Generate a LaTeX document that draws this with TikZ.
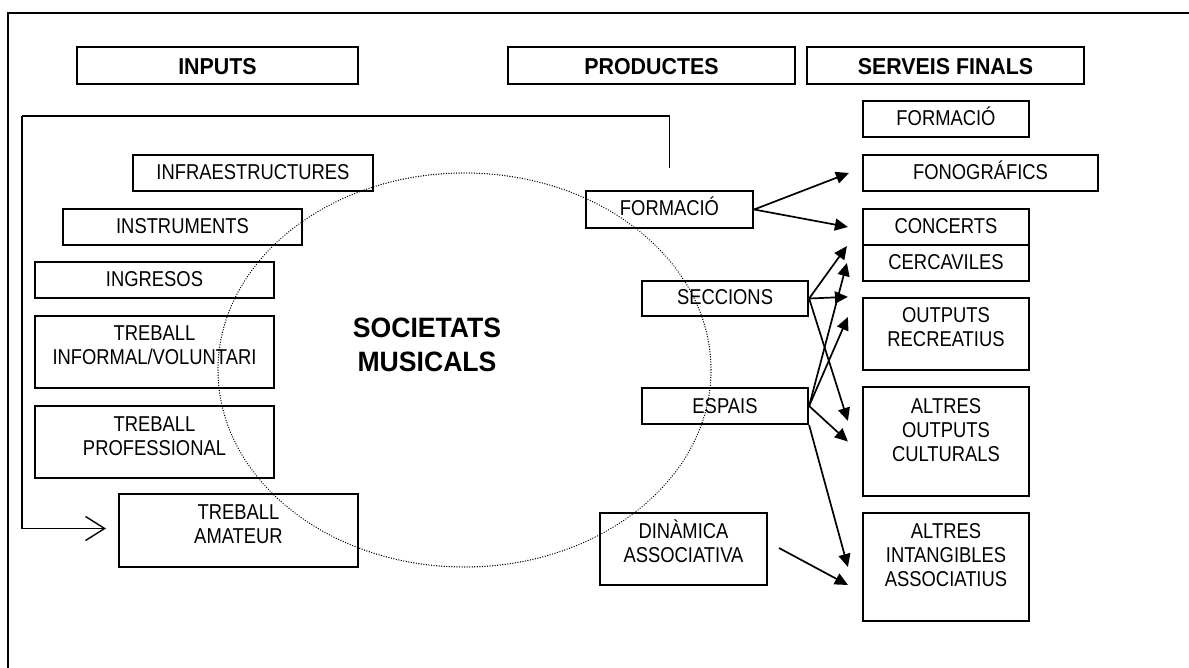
\documentclass[tikz,border=0pt]{standalone}
\usepackage{fontspec}
\setmainfont{Liberation Sans}[FakeStretch=0.855]
\newfontfamily\hdfont{Liberation Sans}[FakeStretch=0.93]
\newfontfamily\socfont{Liberation Sans}[FakeStretch=0.95]
\usetikzlibrary{arrows.meta}
% width, height, first-baseline offset, text
\newcommand\bxt[4]{\parbox[c][#2pt][t]{#1pt}{\centering\rule{0pt}{#3pt}#4\par}}
\tikzset{
  box/.style={draw, line width=2.2pt, inner sep=0pt, font=\fontsize{21.5}{24}\selectfont},
  hbox/.style={box, font=\hdfont\bfseries\fontsize{23}{26}\selectfont},
  arr/.style={line width=1.7pt, -{Triangle[length=13pt,width=12pt]}},
  fb/.style={line width=1.1pt, -{Straight Barb[length=19pt,width=24pt,line width=1.4pt]}},
  dotline/.style={line width=1.4pt, line cap=round, dash pattern=on 0.05pt off 2.5pt},
  frame/.style={line width=2.2pt}
}
\begin{document}
\begin{tikzpicture}[x=1pt,y=-1pt]
\fill[white] (0,0) rectangle (1189,668);
\useasboundingbox (0,0) rectangle (1189,668);
\draw[frame] (8,668) -- (8,13) -- (1189,13);

% headers
\node[hbox] (inputs) at (217.5,65.5) {\bxt{281}{37}{28}{INPUTS}};
\node[hbox] (productes) at (651.5,65.5) {\bxt{287}{37}{28}{PRODUCTES}};
\node[hbox] (serveis) at (945.5,65.5) {\bxt{277}{37}{28}{SERVEIS FINALS}};

% inputs
\node[box] (infra) at (253,173) {\bxt{240}{36}{25}{INFRAESTRUCTURES}};
\node[box] (instr) at (182.5,227) {\bxt{239}{36}{25}{INSTRUMENTS}};
\node[box] (ingr) at (154.5,280) {\bxt{239}{36}{25}{INGRESOS}};
\node[box] (tinf) at (154.5,352) {\bxt{239}{72}{25}{TREBALL\\INFORMAL/VOLUNTARI}};
\node[box] (tprof) at (154.5,442) {\bxt{239}{72}{25}{TREBALL\\PROFESSIONAL}};
\node[box] (tam) at (238.5,530.5) {\bxt{239}{73}{25}{TREBALL\\AMATEUR}};

% productes
\node[box] (formP) at (669.5,209.5) {\bxt{167}{37}{25}{FORMACIÓ}};
\node[box] (secc) at (725,298.5) {\bxt{166}{35}{24}{SECCIONS}};
\node[box] (espais) at (725,406) {\bxt{166}{36}{25}{ESPAIS}};
\node[box] (dina) at (683.5,549) {\bxt{167}{72}{25}{DINÀMICA\\ASSOCIATIVA}};

% serveis finals
\node[box] (formS) at (946,119) {\bxt{166}{36}{25}{FORMACIÓ}};
\node[box] (fono) at (980.5,173) {\bxt{235}{36}{25}{FONOGRÁFICS}};
\node[box] (conc) at (946,227) {\bxt{166}{36}{25}{CONCERTS}};
\node[box] (cerc) at (946,263) {\bxt{166}{36}{25}{CERCAVILES}};
\node[box] (outrec) at (946,334) {\bxt{166}{72}{25}{OUTPUTS\\RECREATIUS}};
\node[box] (altout) at (946,441.5) {\bxt{166}{109}{26}{ALTRES\\OUTPUTS\\CULTURALS}};
\node[box] (altint) at (946,567) {\bxt{166}{108}{25}{ALTRES\\INTANGIBLES\\ASSOCIATIUS}};

% societats
\node[font=\socfont\bfseries\fontsize{28}{34}\selectfont, align=center, inner sep=0pt] (soc) at (427,345) {SOCIETATS\\MUSICALS};
\draw[dotline] (464.5,370) ellipse [x radius=246.5, y radius=197];

% feedback line
\coordinate (fbstart) at ([yshift=22pt]formP.north);
\coordinate (fbcorner) at (22,116);
\coordinate (fbend) at ([xshift=-12pt,yshift=2pt]tam.west);
\draw[line width=1.1pt] (fbstart) |- (fbcorner);
\draw[fb] (fbcorner) |- (fbend);

% arrows
\draw[arr] (formP.east) -- ([xshift=-13pt]fono.west);
\draw[arr] (formP.east) -- ([xshift=-14pt]conc.west);
\draw[arr] (secc.east) -- ([xshift=-15pt]conc.south west);
\draw[arr] (secc.east) -- ([xshift=-14pt]outrec.north west);
\draw[arr] (secc.east) -- ([xshift=-14pt,yshift=-35pt]altout.north west);
\draw[arr] (espais.east) -- ([xshift=-15pt]cerc.west);
\draw[arr] (espais.east) -- ([xshift=-14pt,yshift=17pt]outrec.west);
\draw[arr] (espais.east) -- ([xshift=-14pt]altout.west);
\draw[arr] (espais.south east) -- ([xshift=-14pt]altint.west);
\coordinate (dinastart) at (779,548);
\draw[arr] (dinastart) -- ([xshift=-14pt,yshift=-18pt]altint.west);
\end{tikzpicture}
\end{document}
